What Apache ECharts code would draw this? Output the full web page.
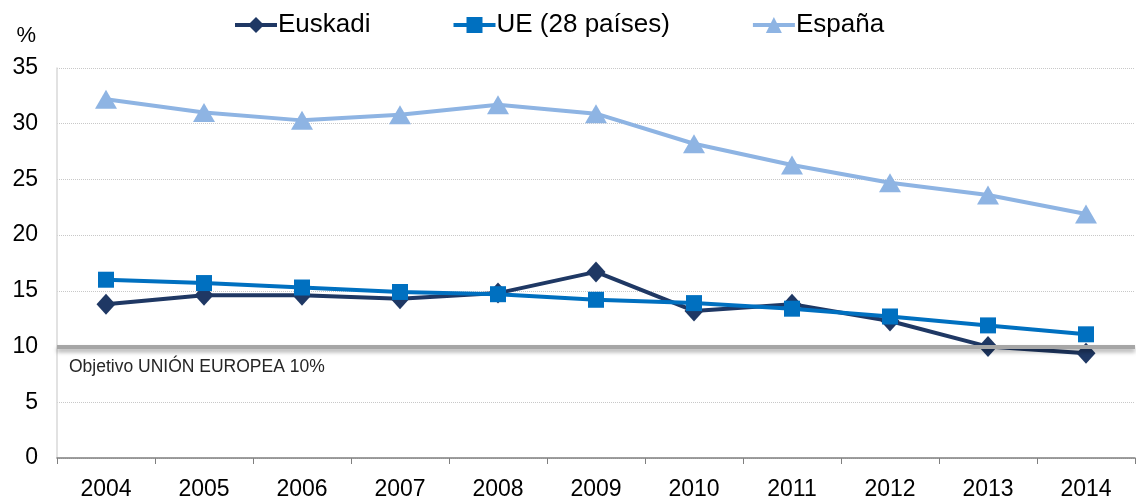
<!DOCTYPE html>
<html>
<head>
<meta charset="utf-8">
<script src="https://cdn.jsdelivr.net/npm/echarts@6/dist/echarts.min.js"></script>
<style>
  html, body { margin: 0; padding: 0; background: #fff; }
  #main { width: 1136px; height: 501px; }
</style>
</head>
<body>
<div id="main"></div>
<script>
var years = ['2004', '2005', '2006', '2007', '2008', '2009', '2010', '2011', '2012', '2013', '2014'];
var euskadi = [13.8, 14.6, 14.6, 14.3, 14.8, 16.7, 13.2, 13.8, 12.3, 10.0, 9.4];
var ue28 = [16.0, 15.7, 15.3, 14.9, 14.7, 14.2, 13.9, 13.4, 12.7, 11.9, 11.1];
var espana = [32.2, 31.0, 30.3, 30.8, 31.7, 30.9, 28.2, 26.3, 24.7, 23.6, 21.9];
var objetivo = 10;

var chart = echarts.init(document.getElementById('main'));

var option = {
  animation: false,
  textStyle: { fontFamily: 'Liberation Sans, Arial, sans-serif' },
  legend: {
    top: 7,
    left: 228,
    itemWidth: 42,
    itemHeight: 20,
    itemGap: 81,
    lineStyle: { width: 4 },
    textStyle: { fontSize: 26, color: '#000', padding: [0, 0, 0, -4] },
    data: ['Euskadi', 'UE (28 países)', 'España']
  },
  grid: { left: 57, right: 1, top: 68, bottom: 41 },
  xAxis: {
    type: 'category',
    data: years,
    boundaryGap: true,
    axisLine: { lineStyle: { color: '#7f7f7f', width: 1.5 } },
    axisTick: { show: true, length: 6, lineStyle: { color: '#7f7f7f' } },
    axisLabel: { fontSize: 23, color: '#000', margin: 20 }
  },
  yAxis: {
    type: 'value',
    min: 0,
    max: 35,
    interval: 5,
    name: '%',
    nameLocation: 'end',
    nameGap: 21,
    nameTextStyle: { fontSize: 22, color: '#000', align: 'right', padding: [0, 21, 0, 0] },
    axisLine: { show: true, lineStyle: { color: '#d9d9d9', width: 1.5 } },
    axisTick: { show: false },
    axisLabel: { fontSize: 23, color: '#000', margin: 19 },
    splitLine: { lineStyle: { color: '#c8c8c8', type: 'dotted', width: 1 } }
  },
  series: [
    {
      name: 'UE (28 países)',
      type: 'line',
      data: ue28,
      z: 3,
      symbol: 'rect',
      symbolSize: 16,
      lineStyle: { color: '#0070c0', width: 4 },
      itemStyle: { color: '#0070c0' }
    },
    {
      name: 'Euskadi',
      type: 'line',
      data: euskadi,
      z: 2,
      symbol: 'diamond',
      symbolSize: [19, 21],
      lineStyle: { color: '#1f3864', width: 4 },
      itemStyle: { color: '#1f3864' },
      markLine: {
        silent: true,
        symbol: 'none',
        z: 4,
        lineStyle: {
          color: '#a6a6a6',
          width: 4,
          type: 'solid',
          shadowColor: 'rgba(0,0,0,0.35)',
          shadowBlur: 4,
          shadowOffsetY: 3
        },
        label: {
          show: true,
          position: 'insideStartBottom',
          formatter: 'Objetivo UNIÓN EUROPEA 10%',
          fontSize: 17.5,
          color: '#262626',
          distance: [12, 12]
        },
        data: [{ yAxis: objetivo }]
      }
    },
    {
      name: 'España',
      type: 'line',
      data: espana,
      z: 2,
      symbol: 'triangle',
      symbolSize: [22, 19],
      lineStyle: { color: '#8eb4e3', width: 4 },
      itemStyle: { color: '#8eb4e3' }
    }
  ]
};

chart.setOption(option);
</script>
</body>
</html>
